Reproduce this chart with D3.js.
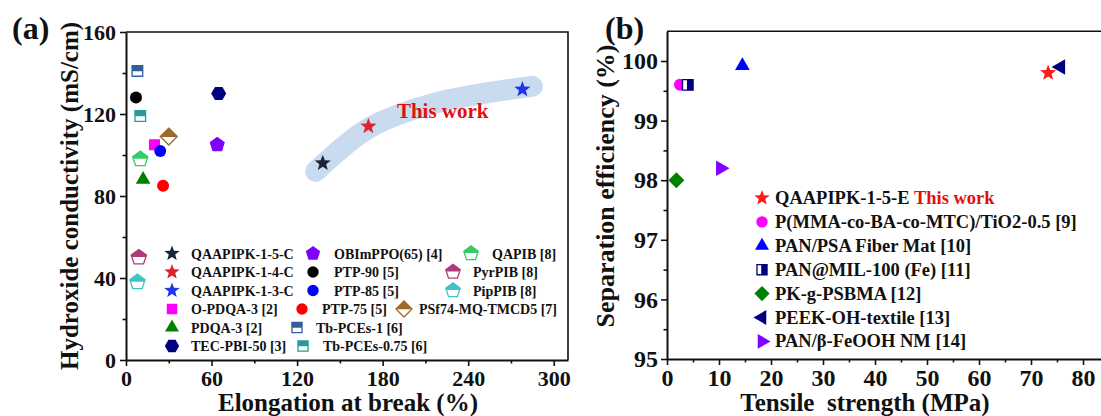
<!DOCTYPE html>
<html>
<head>
<meta charset="utf-8">
<script src="https://d3js.org/d3.v7.min.js"></script>
<style>
body { margin: 0; background: #fff; }
svg text { font-family: "Liberation Serif", "Times New Roman", serif; font-weight: bold; fill: #111; }
</style>
</head>
<body>
<svg width="1101" height="416"></svg>
<script>
// ---- panel (a) data ----
const namesA = ["QAAPIPK-1-5-C", "QAAPIPK-1-4-C", "QAAPIPK-1-3-C", "O-PDQA-3 [2]", "PDQA-3 [2]",
  "TEC-PBI-50 [3]", "OBImPPO(65) [4]", "PTP-90 [5]", "PTP-85 [5]", "PTP-75 [5]",
  "Tb-PCEs-1 [6]", "Tb-PCEs-0.75 [6]", "PSf74-MQ-TMCD5 [7]", "QAPIB [8]", "PyrPIB [8]", "PipPIB [8]"];
const elongA = [138, 170, 278, 20, 12, 65, 64, 7, 24, 26, 8, 10, 30, 10, 9, 8];
const condA = [96, 114, 132, 105, 88, 130, 105, 128, 102, 85, 141, 119, 109, 98, 50, 38];
const xTicksA = [0, 60, 120, 180, 240, 300];
const yTicksA = [0, 40, 80, 120, 160];
// shaded "this work" band, in data units
const bandA = [[133, 92], [170, 113], [215, 125], [285, 133.5]];

// ---- panel (b) data ----
const namesB = ["QAAPIPK-1-5-E", "P(MMA-co-BA-co-MTC)/TiO2-0.5 [9]", "PAN/PSA Fiber Mat [10]",
  "PAN@MIL-100 (Fe) [11]", "PK-g-PSBMA [12]", "PEEK-OH-textile [13]", "PAN/\u03b2-FeOOH NM [14]"];
const tensileB = [73.3, 2.5, 14.5, 4.0, 1.8, 75.7, 10.3];
const effB = [99.8, 99.6, 99.92, 99.6, 98.0, 99.9, 98.2];
const xTicksB = [0, 10, 20, 30, 40, 50, 60, 70, 80];
const yTicksB = [95, 96, 97, 98, 99, 100];

// ---- marker styles: [shape, colour, fill, radius] ----
const styleA = [
  ["star", "#1a2535", "full", 8.5], ["star", "#e0222e", "full", 8.5], ["star", "#2233ee", "full", 8.5],
  ["square", "#ff00ff", "full", 7.8], ["triangle", "#008000", "full", 8.5], ["hexagon", "#000080", "full", 7.5],
  ["pentagon", "#8000ff", "full", 8], ["circle", "#000000", "full", 6], ["circle", "#0000ff", "full", 6],
  ["circle", "#ff0000", "full", 6], ["square", "#2f5f9e", "top", 7.5], ["square", "#2a9a98", "top", 7.5],
  ["diamond", "#a0692a", "top", 8.5], ["pentagon", "#33cc66", "top", 8], ["pentagon", "#b03a7a", "top", 8],
  ["pentagon", "#40c4c8", "top", 8]];
const styleB = [
  ["star", "#ff1a1a", "full", 8.5], ["circle", "#ff00ff", "full", 6], ["triangle", "#0000ff", "full", 8.5],
  ["square", "#000080", "right", 7.5], ["diamond", "#008000", "full", 8], ["triLeft", "#000080", "full", 9],
  ["triRight", "#8000ff", "full", 9]];
// legend (a) placement: [row, symbol x, text x]
const legendA = [[0, 172, 191], [1, 172, 191], [2, 172, 191], [3, 172, 191], [4, 172, 191], [5, 172, 191],
  [0, 313, 334], [1, 313, 334], [2, 313, 334], [3, 302, 322], [4, 297, 316], [5, 303, 323],
  [3, 404, 419], [0, 471, 492], [1, 453, 473], [2, 453, 473]];

const svg = d3.select("svg");

function polygon(n, rot) {
  return { draw(ctx, size) {
    const r = Math.sqrt(size);
    for (let i = 0; i < n; i++) {
      const a = rot + 2 * Math.PI * i / n;
      const px = r * Math.sin(a), py = -r * Math.cos(a);
      i ? ctx.lineTo(px, py) : ctx.moveTo(px, py);
    }
    ctx.closePath();
  } };
}
const shapes = {
  star: { draw(ctx, size) {
    const r = Math.sqrt(size);
    for (let i = 0; i < 10; i++) {
      const a = Math.PI * i / 5, rr = i % 2 ? r * 0.42 : r;
      i ? ctx.lineTo(rr * Math.sin(a), -rr * Math.cos(a)) : ctx.moveTo(0, -rr);
    }
    ctx.closePath();
  } },
  circle: { draw(ctx, size) { const r = Math.sqrt(size); ctx.moveTo(r, 0); ctx.arc(0, 0, r, 0, 2 * Math.PI); } },
  square: polygon(4, Math.PI / 4),
  diamond: polygon(4, 0),
  triangle: polygon(3, 0),
  triLeft: polygon(3, -Math.PI / 2),
  triRight: polygon(3, Math.PI / 2),
  pentagon: polygon(5, 0),
  hexagon: polygon(6, Math.PI / 6)
};

const defs = svg.append("defs");
defs.append("clipPath").attr("id", "topHalf").attr("clipPathUnits", "objectBoundingBox")
  .append("rect").attr("x", -0.2).attr("y", -0.2).attr("width", 1.4).attr("height", 0.72);
defs.append("clipPath").attr("id", "rightHalf").attr("clipPathUnits", "objectBoundingBox")
  .append("rect").attr("x", 0.42).attr("y", -0.2).attr("width", 0.8).attr("height", 1.4);

function marker(g, st, x, y, scale) {
  const [shape, col, fill, r0] = st;
  const r = r0 * (scale || 1);
  const d = d3.symbol().type(shapes[shape]).size(r * r)();
  const t = `translate(${x},${y})`;
  if (fill === "full") {
    g.append("path").attr("d", d).attr("transform", t).attr("fill", col);
  } else {
    g.append("path").attr("d", d).attr("transform", t).attr("fill", "#fff")
      .attr("stroke", col).attr("stroke-width", 1.3);
    g.append("path").attr("d", d).attr("transform", t).attr("fill", col)
      .attr("clip-path", fill === "top" ? "url(#topHalf)" : "url(#rightHalf)");
  }
}

function drawAxes(x, y, xt, yt, xMinor, yMinor, fontSize, pad) {
  const [x0, x1] = x.range(), [y0, y1] = y.range();
  const fmt = d3.format("d");
  const gx = svg.append("g").attr("transform", `translate(0,${y0})`)
    .call(d3.axisBottom(x).tickValues(xt).tickFormat(fmt).tickSize(6).tickPadding(4).tickSizeOuter(0));
  svg.append("g").attr("transform", `translate(0,${y0})`)
    .call(d3.axisBottom(x).tickValues(xMinor).tickSize(3.5).tickFormat("").tickSizeOuter(0))
    .select(".domain").remove();
  const gy = svg.append("g").attr("transform", `translate(${x0},0)`)
    .call(d3.axisLeft(y).tickValues(yt).tickFormat(fmt).tickSize(6).tickPadding(pad).tickSizeOuter(0));
  svg.append("g").attr("transform", `translate(${x0},0)`)
    .call(d3.axisLeft(y).tickValues(yMinor).tickSize(3.5).tickFormat("").tickSizeOuter(0))
    .select(".domain").remove();
  svg.selectAll(".domain").attr("stroke", "#111").attr("stroke-width", 2);
  svg.selectAll(".tick line").attr("stroke", "#111").attr("stroke-width", 1.6);
  [gx, gy].forEach(g => g.selectAll("text").style("font-size", fontSize + "px")
    .style("font-family", "'Liberation Serif', serif").style("font-weight", "bold").attr("fill", "#111"));
  // frame
  svg.append("path").attr("d", `M${x0},${y1}H${x1}V${y0}`).attr("fill", "none")
    .attr("stroke", "#111").attr("stroke-width", 1.6);
}

// ================= panel (a) =================
const xA = d3.scaleLinear().domain([0, 310]).range([126, 568]);
const yA = d3.scaleLinear().domain([0, 160]).range([360, 32]);
drawAxes(xA, yA, xTicksA, yTicksA, [30, 90, 150, 210, 270], [20, 60, 100, 140], 22, 4);

svg.append("path")
  .attr("d", d3.line().x(d => xA(d[0])).y(d => yA(d[1])).curve(d3.curveCatmullRom)(bandA))
  .attr("fill", "none").attr("stroke", "#c9dcef").attr("stroke-width", 21)
  .attr("stroke-linecap", "round").attr("stroke-linejoin", "round");

const gA = svg.append("g");
namesA.forEach((n, i) => marker(gA, styleA[i], xA(elongA[i]), yA(condA[i])));

svg.append("text").attr("x", xA(190)).attr("y", yA(118))
  .style("fill", "#e01010").style("font-size", "21px").text("This work");

const legA = svg.append("g");
namesA.forEach((n, i) => {
  const [row, sx, tx] = legendA[i];
  const cy = 253.5 + row * 18.5;
  marker(legA, styleA[i], sx, cy, 0.95);
  legA.append("text").attr("x", tx).attr("y", cy + 5).style("font-size", "14px").text(n);
});

svg.append("text").attr("x", 12).attr("y", 39).style("font-size", "32px").text("(a)");
svg.append("text").attr("transform", "translate(78,196) rotate(-90)").attr("text-anchor", "middle")
  .style("font-size", "25px").text("Hydroxide conductivity (mS/cm)");
svg.append("text").attr("x", 348).attr("y", 411).attr("text-anchor", "middle")
  .style("font-size", "25px").text("Elongation at break (%)");

// ================= panel (b) =================
const xB = d3.scaleLinear().domain([0, 90]).range([667, 1135]);
const yB = d3.scaleLinear().domain([95, 100.5]).range([359, 31.2]);
drawAxes(xB, yB, xTicksB, yTicksB, d3.range(5, 90, 10), [95.5, 96.5, 97.5, 98.5, 99.5], 24, 3);

const gB = svg.append("g");
[1, 2, 3, 4, 5, 6, 0].forEach(i => marker(gB, styleB[i], xB(tensileB[i]), yB(effB[i])));

const legB = svg.append("g");
namesB.forEach((n, i) => {
  const cy = 198 + i * 23.9;
  marker(legB, styleB[i], 762, cy, 0.95);
  const t = legB.append("text").attr("x", 775).attr("y", cy + 6).style("font-size", "18.5px").text(n);
  if (i === 0) t.append("tspan").style("fill", "#e01010").text(" This work");
});

svg.append("text").attr("x", 605).attr("y", 39).style("font-size", "32px").text("(b)");
svg.append("text").attr("transform", "translate(614,186) rotate(-90)").attr("text-anchor", "middle")
  .style("font-size", "26px").text("Separation efficiency (%)");
svg.append("text").attr("x", 865).attr("y", 411).attr("text-anchor", "middle")
  .style("font-size", "25px").attr("xml:space", "preserve")
  .text("Tensile  strength (MPa)");
</script>
</body>
</html>
